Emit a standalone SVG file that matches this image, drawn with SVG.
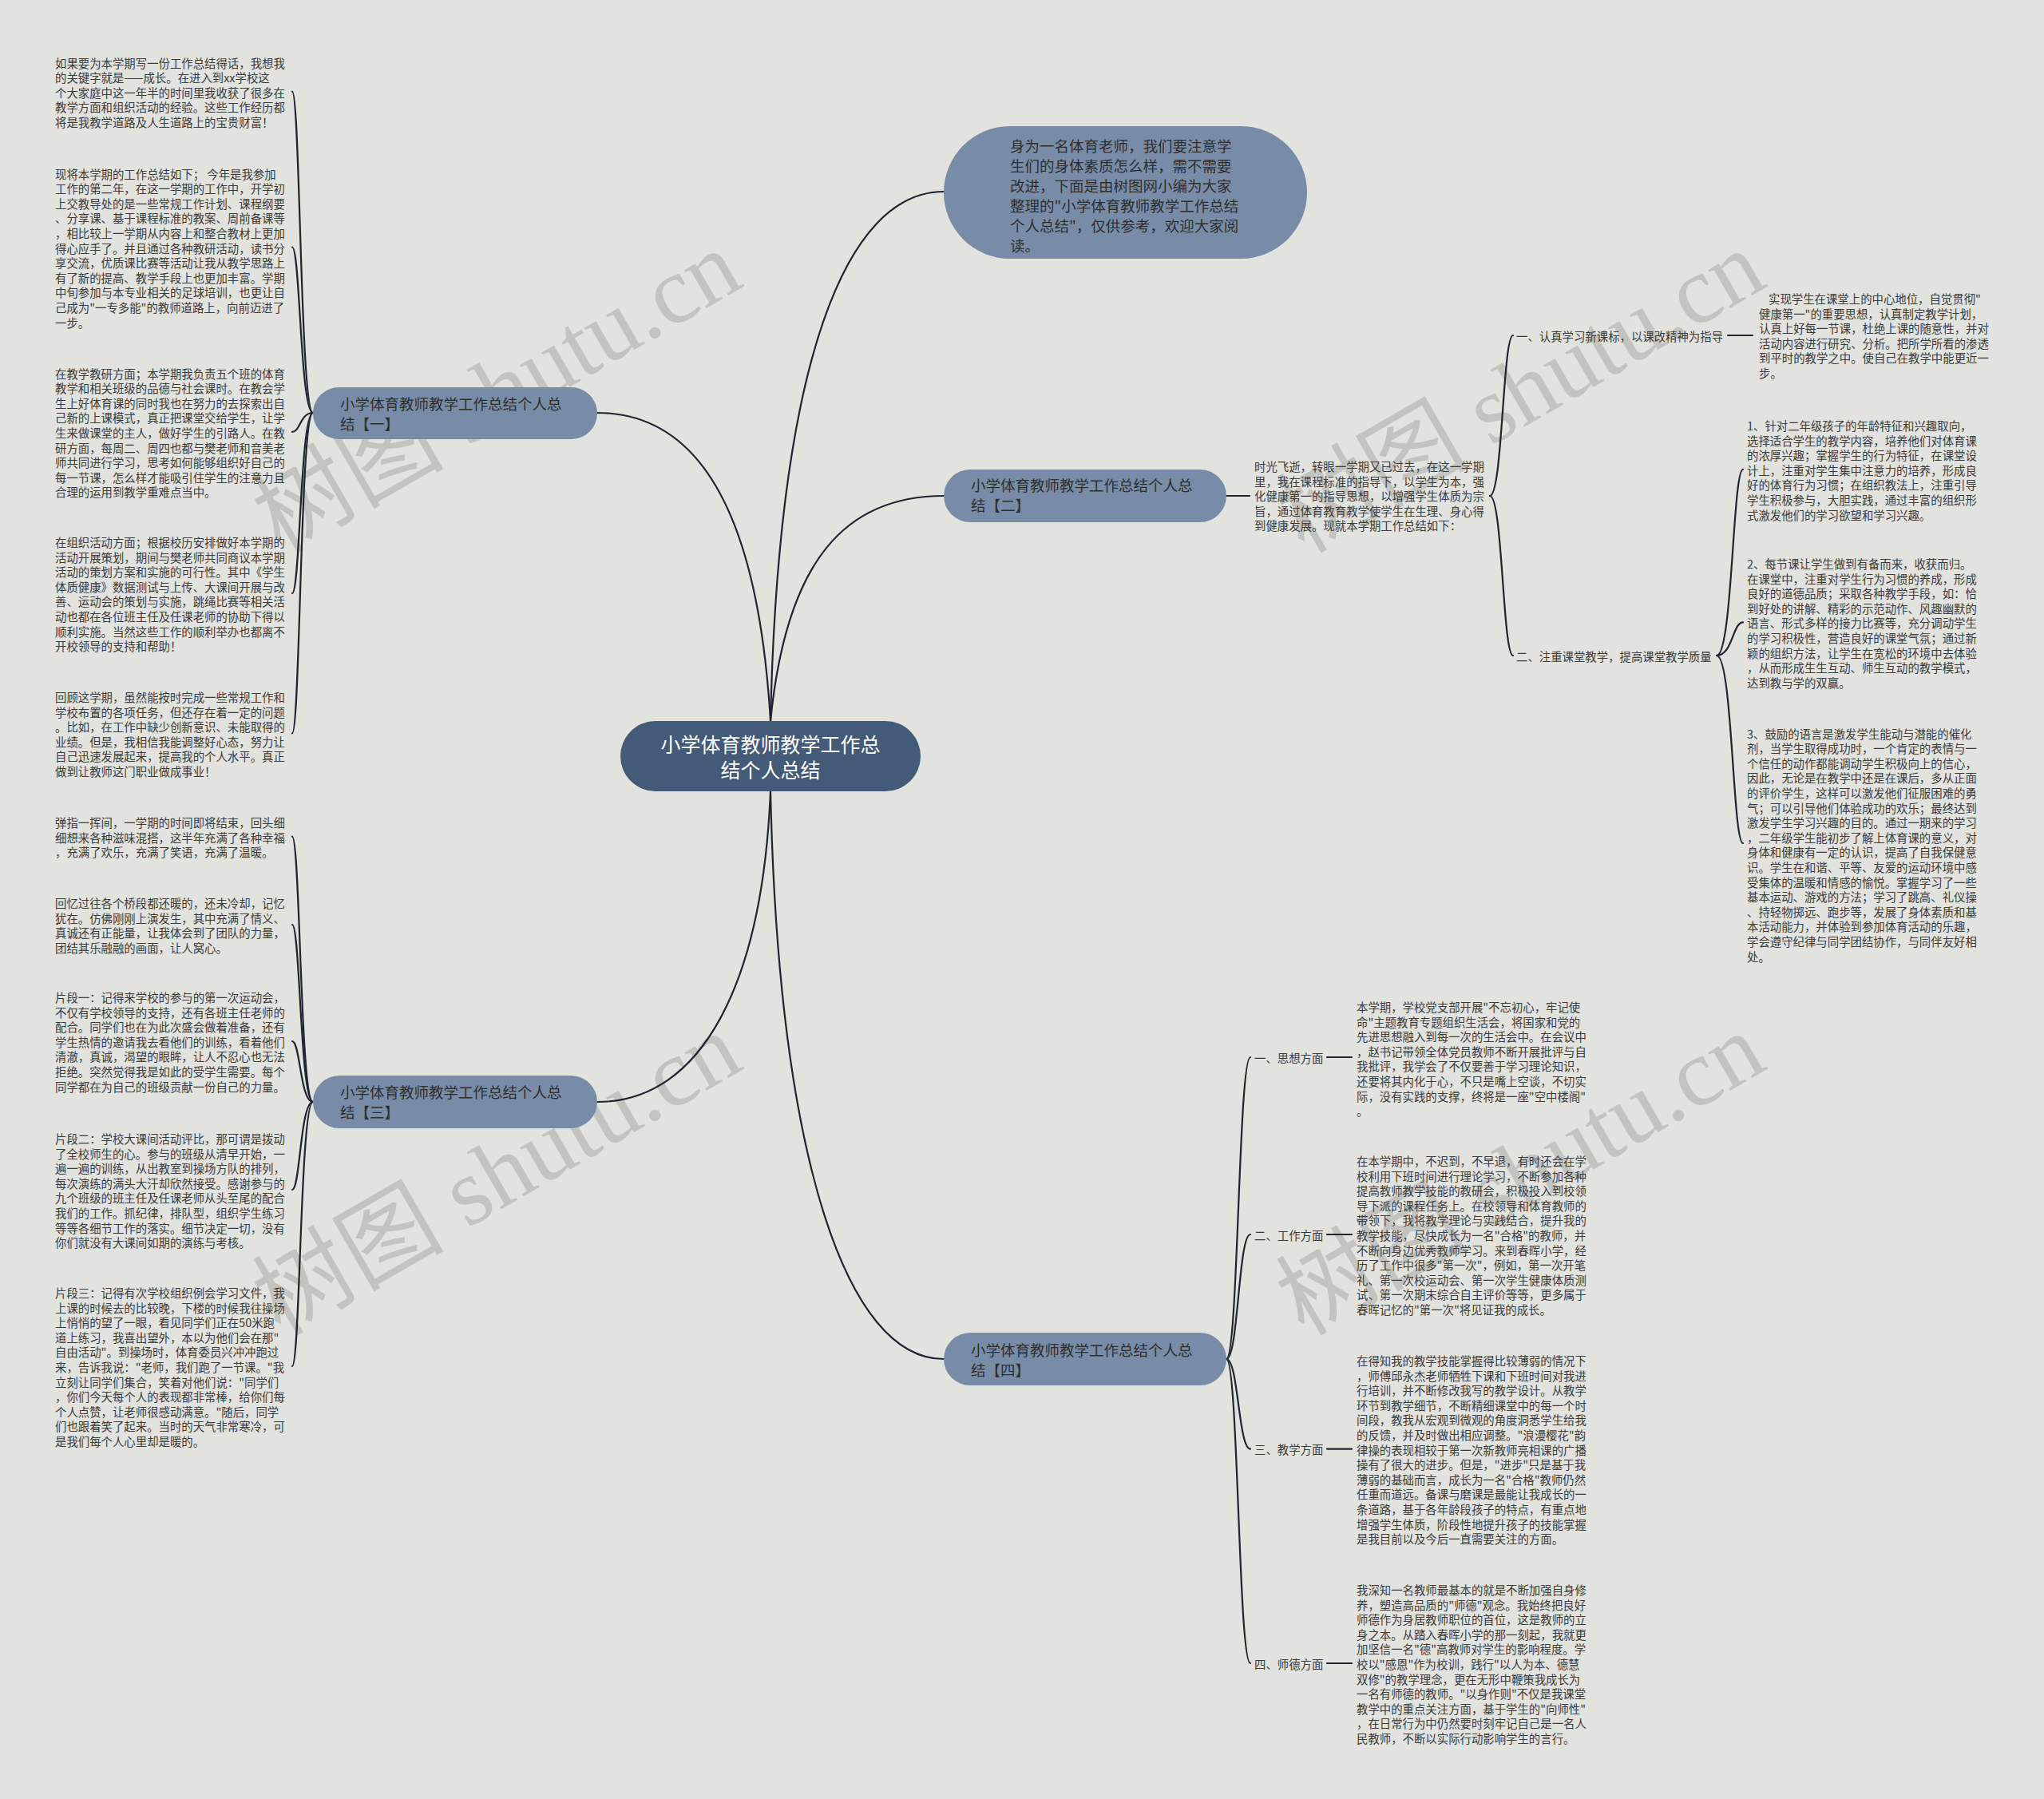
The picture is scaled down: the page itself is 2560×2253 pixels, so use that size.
<svg xmlns="http://www.w3.org/2000/svg" width="2560" height="2253" viewBox="0 0 2560 2253">
<style>
.bg{fill:#e2e2de}
.wm{font-family:"Liberation Serif","Noto Sans CJK SC",serif;font-size:120px;fill:#c3c3bf}
.line{fill:none;stroke:#1e2430;stroke-width:2.2;stroke-linecap:round}
.main{fill:#435a78}
.sub{fill:#788ca8}
.t{font-family:"Noto Sans CJK SC","Noto Sans CJK JP",sans-serif;font-size:14.4px;fill:#3a3a3a;dominant-baseline:central}
.nt{font-family:"Noto Sans CJK SC","Noto Sans CJK JP",sans-serif;font-size:18.5px;fill:#2e2e2e;dominant-baseline:central}
.ct{font-family:"Noto Sans CJK SC","Noto Sans CJK JP",sans-serif;font-size:25px;fill:#ffffff;dominant-baseline:central;text-anchor:middle}
</style>
<rect class="bg" x="0" y="0" width="2560" height="2253"/>
<g id="watermarks">
<text class="wm" transform="translate(351,694) rotate(-30)">树图 shutu.cn</text>
<text class="wm" transform="translate(351,1674) rotate(-30)">树图 shutu.cn</text>
<text class="wm" transform="translate(1633,694) rotate(-30)">树图 shutu.cn</text>
<text class="wm" transform="translate(1633,1674) rotate(-30)">树图 shutu.cn</text>
</g>
<g id="connectors">
<path class="line" d="M965 903 C975 450 1060 240 1182 240"/>
<path class="line" d="M965 903 C985 700 1060 621 1182 621"/>
<path class="line" d="M965 903 C950 650 880 517 748 517"/>
<path class="line" d="M965 991 C955 1230 880 1380 748 1380"/>
<path class="line" d="M965 991 C975 1450 1060 1702 1182 1702"/>
<path class="line" d="M392 517 C376 517 376 114.7 366 114.7"/>
<path class="line" d="M392 517 C376 517 376 309.5 366 309.5"/>
<path class="line" d="M392 517 C376 517 376 540.9 366 540.9"/>
<path class="line" d="M392 517 C376 517 376 743 366 743"/>
<path class="line" d="M392 517 C376 517 376 918.5 366 918.5"/>
<path class="line" d="M392 1380 C376 1380 376 1047.6 366 1047.6"/>
<path class="line" d="M392 1380 C376 1380 376 1158 366 1158"/>
<path class="line" d="M392 1380 C376 1380 376 1304 366 1304"/>
<path class="line" d="M392 1380 C376 1380 376 1490 366 1490"/>
<path class="line" d="M392 1380 C376 1380 376 1711 366 1711"/>
<path class="line" d="M1536 621 L1565 621"/>
<path class="line" d="M1866 621 C1882 621 1882 420 1895 420"/>
<path class="line" d="M1866 621 C1882 621 1882 821 1895 821"/>
<path class="line" d="M2164 420 L2195 420"/>
<path class="line" d="M2150 821 C2170 821 2170 587.8 2183 587.8"/>
<path class="line" d="M2150 821 C2170 821 2170 779.4 2183 779.4"/>
<path class="line" d="M2150 821 C2170 821 2170 1056 2183 1056"/>
<path class="line" d="M1536 1702 C1551 1702 1551 1324 1566 1324"/>
<path class="line" d="M1536 1702 C1551 1702 1551 1546 1566 1546"/>
<path class="line" d="M1536 1702 C1551 1702 1551 1814.6 1566 1814.6"/>
<path class="line" d="M1536 1702 C1551 1702 1551 2083 1566 2083"/>
<path class="line" d="M1662 1324 L1693 1324"/>
<path class="line" d="M1662 1546 L1693 1546"/>
<path class="line" d="M1662 1814.6 L1693 1814.6"/>
<path class="line" d="M1662 2083 L1693 2083"/>
</g>
<g id="node-center">
<rect class="main" x="777" y="903" width="376" height="88" rx="44"/>
<text class="ct" x="965" y="931">小学体育教师教学工作总</text>
<text class="ct" x="965" y="963">结个人总结</text>
</g>
<g id="node-intro">
<rect class="sub" x="1182" y="158" width="455" height="166" rx="83"/>
<text class="nt" x="1265" y="182"><tspan x="1265" dy="0">身为一名体育老师，我们要注意学</tspan><tspan x="1265" dy="25">生们的身体素质怎么样，需不需要</tspan><tspan x="1265" dy="25">改进，下面是由树图网小编为大家</tspan><tspan x="1265" dy="25">整理的"小学体育教师教学工作总结</tspan><tspan x="1265" dy="25">个人总结"，仅供参考，欢迎大家阅</tspan><tspan x="1265" dy="25">读。</tspan></text>
</g>
<g id="node-1">
<rect class="sub" x="392" y="485" width="356" height="65" rx="32.5"/>
<text class="nt" x="426" y="505">小学体育教师教学工作总结个人总</text>
<text class="nt" x="426" y="529.5">结【一】</text>
</g>
<g id="node-2">
<rect class="sub" x="1182" y="588" width="354" height="66" rx="33"/>
<text class="nt" x="1216" y="607">小学体育教师教学工作总结个人总</text>
<text class="nt" x="1216" y="631.5">结【二】</text>
</g>
<g id="node-3">
<rect class="sub" x="392" y="1347" width="356" height="66" rx="33"/>
<text class="nt" x="426" y="1367">小学体育教师教学工作总结个人总</text>
<text class="nt" x="426" y="1391.5">结【三】</text>
</g>
<g id="node-4">
<rect class="sub" x="1182" y="1669" width="354" height="66" rx="33"/>
<text class="nt" x="1216" y="1690">小学体育教师教学工作总结个人总</text>
<text class="nt" x="1216" y="1714.5">结【四】</text>
</g>
<g id="n1-text-1">
<text class="t" x="69" y="77.5"><tspan x="69" dy="0">如果要为本学期写一份工作总结得话，我想我</tspan><tspan x="69" dy="18.6">的关键字就是——成长。在进入到xx学校这</tspan><tspan x="69" dy="18.6">个大家庭中这一年半的时间里我收获了很多在</tspan><tspan x="69" dy="18.6">教学方面和组织活动的经验。这些工作经历都</tspan><tspan x="69" dy="18.6">将是我教学道路及人生道路上的宝贵财富！</tspan></text>
</g>
<g id="n1-text-2">
<text class="t" x="69" y="216.5"><tspan x="69" dy="0">现将本学期的工作总结如下；  今年是我参加</tspan><tspan x="69" dy="18.6">工作的第二年，在这一学期的工作中，开学初</tspan><tspan x="69" dy="18.6">上交教导处的是一些常规工作计划、课程纲要</tspan><tspan x="69" dy="18.6">、分享课、基于课程标准的教案、周前备课等</tspan><tspan x="69" dy="18.6">，相比较上一学期从内容上和整合教材上更加</tspan><tspan x="69" dy="18.6">得心应手了。并且通过各种教研活动，读书分</tspan><tspan x="69" dy="18.6">享交流，优质课比赛等活动让我从教学思路上</tspan><tspan x="69" dy="18.6">有了新的提高、教学手段上也更加丰富。学期</tspan><tspan x="69" dy="18.6">中旬参加与本专业相关的足球培训，也更让自</tspan><tspan x="69" dy="18.6">己成为"一专多能"的教师道路上，向前迈进了</tspan><tspan x="69" dy="18.6">一步。</tspan></text>
</g>
<g id="n1-text-3">
<text class="t" x="69" y="466.5"><tspan x="69" dy="0">在教学教研方面；本学期我负责五个班的体育</tspan><tspan x="69" dy="18.6">教学和相关班级的品德与社会课时。在教会学</tspan><tspan x="69" dy="18.6">生上好体育课的同时我也在努力的去探索出自</tspan><tspan x="69" dy="18.6">己新的上课模式，真正把课堂交给学生，让学</tspan><tspan x="69" dy="18.6">生来做课堂的主人，做好学生的引路人。在教</tspan><tspan x="69" dy="18.6">研方面，每周二、周四也都与樊老师和音美老</tspan><tspan x="69" dy="18.6">师共同进行学习，思考如何能够组织好自己的</tspan><tspan x="69" dy="18.6">每一节课，怎么样才能吸引住学生的注意力且</tspan><tspan x="69" dy="18.6">合理的运用到教学重难点当中。</tspan></text>
</g>
<g id="n1-text-4">
<text class="t" x="69" y="678"><tspan x="69" dy="0">在组织活动方面；根据校历安排做好本学期的</tspan><tspan x="69" dy="18.6">活动开展策划，期间与樊老师共同商议本学期</tspan><tspan x="69" dy="18.6">活动的策划方案和实施的可行性。其中《学生</tspan><tspan x="69" dy="18.6">体质健康》数据测试与上传、大课间开展与改</tspan><tspan x="69" dy="18.6">善、运动会的策划与实施，跳绳比赛等相关活</tspan><tspan x="69" dy="18.6">动也都在各位班主任及任课老师的协助下得以</tspan><tspan x="69" dy="18.6">顺利实施。当然这些工作的顺利举办也都离不</tspan><tspan x="69" dy="18.6">开校领导的支持和帮助！</tspan></text>
</g>
<g id="n1-text-5">
<text class="t" x="69" y="872"><tspan x="69" dy="0">回顾这学期，虽然能按时完成一些常规工作和</tspan><tspan x="69" dy="18.6">学校布置的各项任务，但还存在着一定的问题</tspan><tspan x="69" dy="18.6">。比如，在工作中缺少创新意识、未能取得的</tspan><tspan x="69" dy="18.6">业绩。但是，我相信我能调整好心态，努力让</tspan><tspan x="69" dy="18.6">自己迅速发展起来，提高我的个人水平。真正</tspan><tspan x="69" dy="18.6">做到让教师这门职业做成事业！</tspan></text>
</g>
<g id="n3-text-1">
<text class="t" x="69" y="1029"><tspan x="69" dy="0">弹指一挥间，一学期的时间即将结束，回头细</tspan><tspan x="69" dy="18.6">细想来各种滋味混搭，这半年充满了各种幸福</tspan><tspan x="69" dy="18.6">，充满了欢乐，充满了笑语，充满了温暖。</tspan></text>
</g>
<g id="n3-text-2">
<text class="t" x="69" y="1130"><tspan x="69" dy="0">回忆过往各个桥段都还暖的，还未冷却，记忆</tspan><tspan x="69" dy="18.6">犹在。仿佛刚刚上演发生，其中充满了情义、</tspan><tspan x="69" dy="18.6">真诚还有正能量，让我体会到了团队的力量，</tspan><tspan x="69" dy="18.6">团结其乐融融的画面，让人窝心。</tspan></text>
</g>
<g id="n3-text-3">
<text class="t" x="69" y="1248"><tspan x="69" dy="0">片段一：记得来学校的参与的第一次运动会，</tspan><tspan x="69" dy="18.6">不仅有学校领导的支持，还有各班主任老师的</tspan><tspan x="69" dy="18.6">配合。同学们也在为此次盛会做着准备，还有</tspan><tspan x="69" dy="18.6">学生热情的邀请我去看他们的训练，看着他们</tspan><tspan x="69" dy="18.6">清澈，真诚，渴望的眼眸，让人不忍心也无法</tspan><tspan x="69" dy="18.6">拒绝。突然觉得我是如此的受学生需要。每个</tspan><tspan x="69" dy="18.6">同学都在为自己的班级贡献一份自己的力量。</tspan></text>
</g>
<g id="n3-text-4">
<text class="t" x="69" y="1425"><tspan x="69" dy="0">片段二：学校大课间活动评比，那可谓是拨动</tspan><tspan x="69" dy="18.6">了全校师生的心。参与的班级从清早开始，一</tspan><tspan x="69" dy="18.6">遍一遍的训练，从出教室到操场方队的排列，</tspan><tspan x="69" dy="18.6">每次演练的满头大汗却欣然接受。感谢参与的</tspan><tspan x="69" dy="18.6">九个班级的班主任及任课老师从头至尾的配合</tspan><tspan x="69" dy="18.6">我们的工作。抓纪律，排队型，组织学生练习</tspan><tspan x="69" dy="18.6">等等各细节工作的落实。细节决定一切，没有</tspan><tspan x="69" dy="18.6">你们就没有大课间如期的演练与考核。</tspan></text>
</g>
<g id="n3-text-5">
<text class="t" x="69" y="1618"><tspan x="69" dy="0">片段三：记得有次学校组织例会学习文件，我</tspan><tspan x="69" dy="18.6">上课的时候去的比较晚，下楼的时候我往操场</tspan><tspan x="69" dy="18.6">上悄悄的望了一眼，看见同学们正在50米跑</tspan><tspan x="69" dy="18.6">道上练习，我喜出望外，本以为他们会在那"</tspan><tspan x="69" dy="18.6">自由活动"。到操场时，体育委员兴冲冲跑过</tspan><tspan x="69" dy="18.6">来，告诉我说："老师，我们跑了一节课。"我</tspan><tspan x="69" dy="18.6">立刻让同学们集合，笑着对他们说："同学们</tspan><tspan x="69" dy="18.6">，你们今天每个人的表现都非常棒，给你们每</tspan><tspan x="69" dy="18.6">个人点赞，让老师很感动满意。"随后，同学</tspan><tspan x="69" dy="18.6">们也跟着笑了起来。当时的天气非常寒冷，可</tspan><tspan x="69" dy="18.6">是我们每个人心里却是暖的。</tspan></text>
</g>
<g id="n2-intro">
<text class="t" x="1571" y="583"><tspan x="1571" dy="0">时光飞逝，转眼一学期又已过去，在这一学期</tspan><tspan x="1571" dy="18.6">里，我在课程标准的指导下，以学生为本，强</tspan><tspan x="1571" dy="18.6">化健康第一的指导思想，以增强学生体质为宗</tspan><tspan x="1571" dy="18.6">旨，通过体育教育教学使学生在生理、身心得</tspan><tspan x="1571" dy="18.6">到健康发展。现就本学期工作总结如下：</tspan></text>
</g>
<g id="n2-label-1">
<text class="t" x="1899" y="420">一、认真学习新课标，以课改精神为指导</text>
</g>
<g id="n2-label-2">
<text class="t" x="1899" y="821">二、注重课堂教学，提高课堂教学质量</text>
</g>
<g id="n2-text-1">
<text class="t" x="2203" y="373"><tspan x="2215" dy="0">实现学生在课堂上的中心地位，自觉贯彻"</tspan><tspan x="2203" dy="18.6">健康第一"的重要思想，认真制定教学计划，</tspan><tspan x="2203" dy="18.6">认真上好每一节课，杜绝上课的随意性，并对</tspan><tspan x="2203" dy="18.6">活动内容进行研究、分析。把所学所看的渗透</tspan><tspan x="2203" dy="18.6">到平时的教学之中。使自己在教学中能更近一</tspan><tspan x="2203" dy="18.6">步。</tspan></text>
</g>
<g id="n2-text-2">
<text class="t" x="2188" y="532"><tspan x="2188" dy="0">1、针对二年级孩子的年龄特征和兴趣取向，</tspan><tspan x="2188" dy="18.6">选择适合学生的教学内容，培养他们对体育课</tspan><tspan x="2188" dy="18.6">的浓厚兴趣；掌握学生的行为特征，在课堂设</tspan><tspan x="2188" dy="18.6">计上，注重对学生集中注意力的培养，形成良</tspan><tspan x="2188" dy="18.6">好的体育行为习惯；在组织教法上，注重引导</tspan><tspan x="2188" dy="18.6">学生积极参与，大胆实践，通过丰富的组织形</tspan><tspan x="2188" dy="18.6">式激发他们的学习欲望和学习兴趣。</tspan></text>
</g>
<g id="n2-text-3">
<text class="t" x="2188" y="705"><tspan x="2188" dy="0">2、每节课让学生做到有备而来，收获而归。</tspan><tspan x="2188" dy="18.6">在课堂中，注重对学生行为习惯的养成，形成</tspan><tspan x="2188" dy="18.6">良好的道德品质；采取各种教学手段，如：恰</tspan><tspan x="2188" dy="18.6">到好处的讲解、精彩的示范动作、风趣幽默的</tspan><tspan x="2188" dy="18.6">语言、形式多样的接力比赛等，充分调动学生</tspan><tspan x="2188" dy="18.6">的学习积极性，营造良好的课堂气氛；通过新</tspan><tspan x="2188" dy="18.6">颖的组织方法，让学生在宽松的环境中去体验</tspan><tspan x="2188" dy="18.6">，从而形成生生互动、师生互动的教学模式，</tspan><tspan x="2188" dy="18.6">达到教与学的双赢。</tspan></text>
</g>
<g id="n2-text-4">
<text class="t" x="2188" y="917.5"><tspan x="2188" dy="0">3、鼓励的语言是激发学生能动与潜能的催化</tspan><tspan x="2188" dy="18.6">剂，当学生取得成功时，一个肯定的表情与一</tspan><tspan x="2188" dy="18.6">个信任的动作都能调动学生积极向上的信心，</tspan><tspan x="2188" dy="18.6">因此，无论是在教学中还是在课后，多从正面</tspan><tspan x="2188" dy="18.6">的评价学生，这样可以激发他们征服困难的勇</tspan><tspan x="2188" dy="18.6">气；可以引导他们体验成功的欢乐；最终达到</tspan><tspan x="2188" dy="18.6">激发学生学习兴趣的目的。通过一期来的学习</tspan><tspan x="2188" dy="18.6">，二年级学生能初步了解上体育课的意义，对</tspan><tspan x="2188" dy="18.6">身体和健康有一定的认识，提高了自我保健意</tspan><tspan x="2188" dy="18.6">识。学生在和谐、平等、友爱的运动环境中感</tspan><tspan x="2188" dy="18.6">受集体的温暖和情感的愉悦。掌握学习了一些</tspan><tspan x="2188" dy="18.6">基本运动、游戏的方法；学习了跳高、礼仪操</tspan><tspan x="2188" dy="18.6">、持轻物掷远、跑步等，发展了身体素质和基</tspan><tspan x="2188" dy="18.6">本活动能力，并体验到参加体育活动的乐趣，</tspan><tspan x="2188" dy="18.6">学会遵守纪律与同学团结协作，与同伴友好相</tspan><tspan x="2188" dy="18.6">处。</tspan></text>
</g>
<g id="n4-label-1"><text class="t" x="1571" y="1324">一、思想方面</text></g>
<g id="n4-label-2"><text class="t" x="1571" y="1546">二、工作方面</text></g>
<g id="n4-label-3"><text class="t" x="1571" y="1814.6">三、教学方面</text></g>
<g id="n4-label-4"><text class="t" x="1571" y="2083">四、师德方面</text></g>
<g id="n4-text-1">
<text class="t" x="1699" y="1260"><tspan x="1699" dy="0">本学期，学校党支部开展"不忘初心，牢记使</tspan><tspan x="1699" dy="18.6">命"主题教育专题组织生活会，将国家和党的</tspan><tspan x="1699" dy="18.6">先进思想融入到每一次的生活会中。在会议中</tspan><tspan x="1699" dy="18.6">，赵书记带领全体党员教师不断开展批评与自</tspan><tspan x="1699" dy="18.6">我批评，我学会了不仅要善于学习理论知识，</tspan><tspan x="1699" dy="18.6">还要将其内化于心，不只是嘴上空谈，不切实</tspan><tspan x="1699" dy="18.6">际，没有实践的支撑，终将是一座"空中楼阁"</tspan><tspan x="1699" dy="18.6">。</tspan></text>
</g>
<g id="n4-text-2">
<text class="t" x="1699" y="1453"><tspan x="1699" dy="0">在本学期中，不迟到，不早退，有时还会在学</tspan><tspan x="1699" dy="18.6">校利用下班时间进行理论学习，不断参加各种</tspan><tspan x="1699" dy="18.6">提高教师教学技能的教研会，积极投入到校领</tspan><tspan x="1699" dy="18.6">导下派的课程任务上。在校领导和体育教师的</tspan><tspan x="1699" dy="18.6">带领下，我将教学理论与实践结合，提升我的</tspan><tspan x="1699" dy="18.6">教学技能，尽快成长为一名"合格"的教师，并</tspan><tspan x="1699" dy="18.6">不断向身边优秀教师学习。来到春晖小学，经</tspan><tspan x="1699" dy="18.6">历了工作中很多"第一次"，例如，第一次开笔</tspan><tspan x="1699" dy="18.6">礼、第一次校运动会、第一次学生健康体质测</tspan><tspan x="1699" dy="18.6">试、第一次期末综合自主评价等等，更多属于</tspan><tspan x="1699" dy="18.6">春晖记忆的"第一次"将见证我的成长。</tspan></text>
</g>
<g id="n4-text-3">
<text class="t" x="1699" y="1703"><tspan x="1699" dy="0">在得知我的教学技能掌握得比较薄弱的情况下</tspan><tspan x="1699" dy="18.6">，师傅邱永杰老师牺牲下课和下班时间对我进</tspan><tspan x="1699" dy="18.6">行培训，并不断修改我写的教学设计。从教学</tspan><tspan x="1699" dy="18.6">环节到教学细节，不断精细课堂中的每一个时</tspan><tspan x="1699" dy="18.6">间段，教我从宏观到微观的角度洞悉学生给我</tspan><tspan x="1699" dy="18.6">的反馈，并及时做出相应调整。"浪漫樱花"韵</tspan><tspan x="1699" dy="18.6">律操的表现相较于第一次新教师亮相课的广播</tspan><tspan x="1699" dy="18.6">操有了很大的进步。但是，"进步"只是基于我</tspan><tspan x="1699" dy="18.6">薄弱的基础而言，成长为一名"合格"教师仍然</tspan><tspan x="1699" dy="18.6">任重而道远。备课与磨课是最能让我成长的一</tspan><tspan x="1699" dy="18.6">条道路，基于各年龄段孩子的特点，有重点地</tspan><tspan x="1699" dy="18.6">增强学生体质，阶段性地提升孩子的技能掌握</tspan><tspan x="1699" dy="18.6">是我目前以及今后一直需要关注的方面。</tspan></text>
</g>
<g id="n4-text-4">
<text class="t" x="1699" y="1990"><tspan x="1699" dy="0">我深知一名教师最基本的就是不断加强自身修</tspan><tspan x="1699" dy="18.6">养，塑造高品质的"师德"观念。我始终把良好</tspan><tspan x="1699" dy="18.6">师德作为身居教师职位的首位，这是教师的立</tspan><tspan x="1699" dy="18.6">身之本。从踏入春晖小学的那一刻起，我就更</tspan><tspan x="1699" dy="18.6">加坚信一名"德"高教师对学生的影响程度。学</tspan><tspan x="1699" dy="18.6">校以"感恩"作为校训，践行"以人为本、德慧</tspan><tspan x="1699" dy="18.6">双修"的教学理念，更在无形中鞭策我成长为</tspan><tspan x="1699" dy="18.6">一名有师德的教师。"以身作则"不仅是我课堂</tspan><tspan x="1699" dy="18.6">教学中的重点关注方面，基于学生的"向师性"</tspan><tspan x="1699" dy="18.6">，在日常行为中仍然要时刻牢记自己是一名人</tspan><tspan x="1699" dy="18.6">民教师，不断以实际行动影响学生的言行。</tspan></text>
</g>
</svg>
